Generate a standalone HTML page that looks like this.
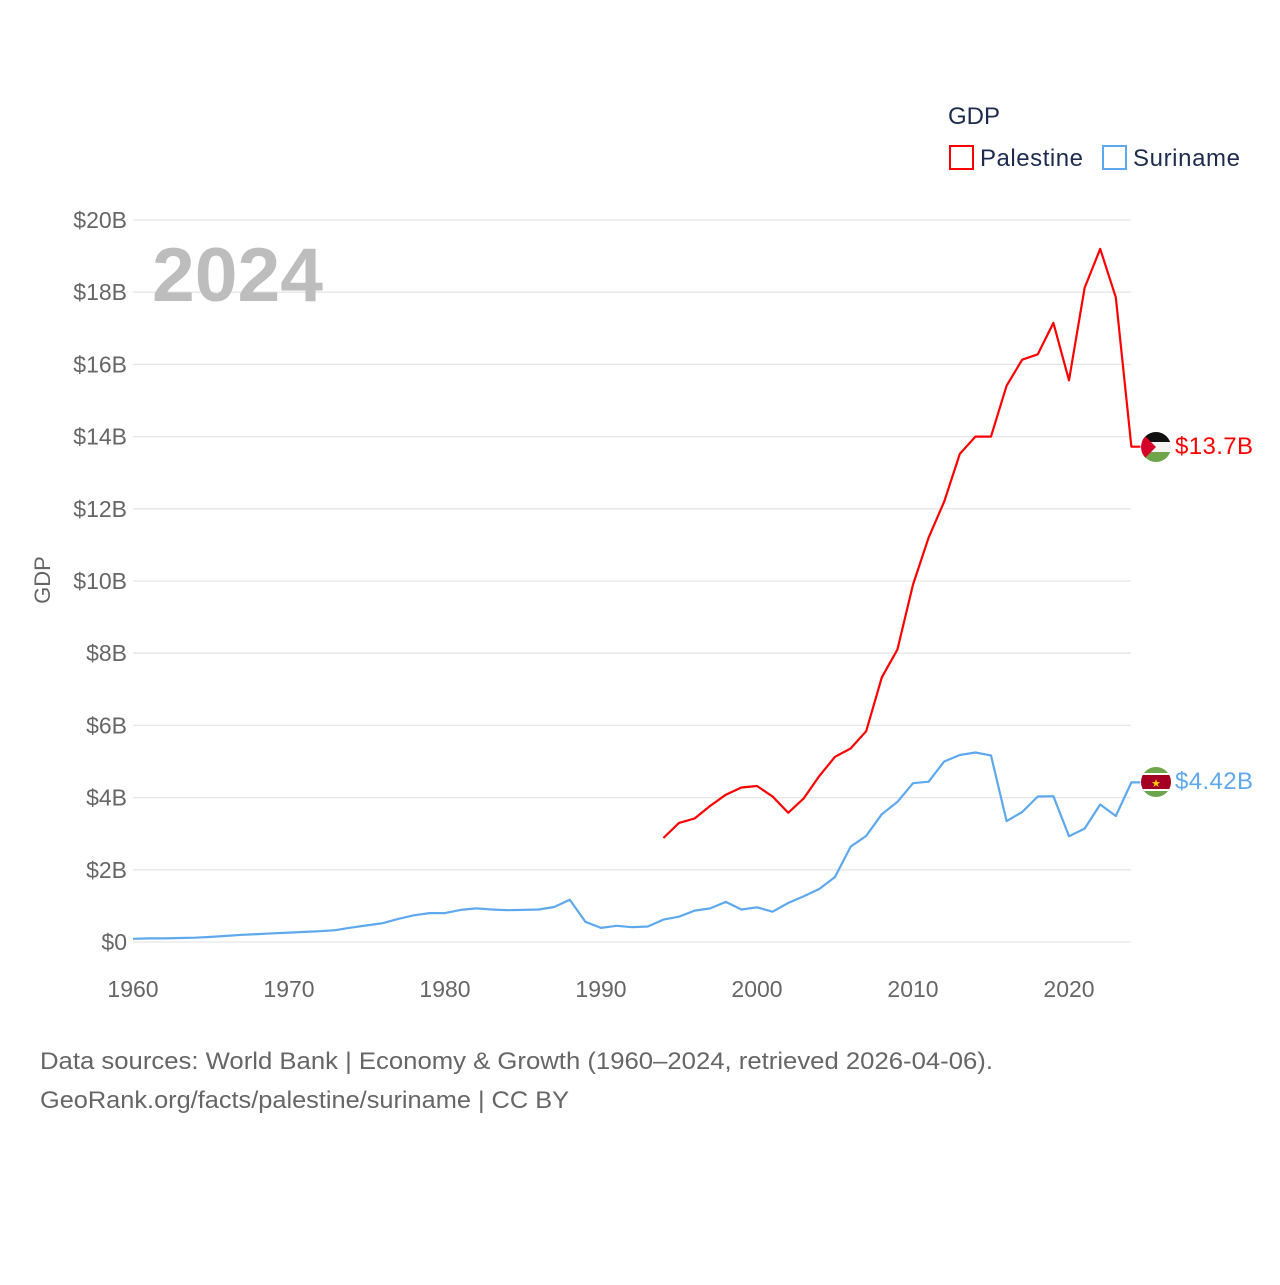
<!DOCTYPE html>
<html><head><meta charset="utf-8"><style>
body{margin:0;background:#fff;width:1280px;height:1280px;overflow:hidden;font-family:"Liberation Sans",sans-serif}
svg text{font-family:"Liberation Sans",sans-serif}
</style></head><body>
<svg id="chart" width="1280" height="1280" viewBox="0 0 1280 1280" xmlns="http://www.w3.org/2000/svg">
<defs>
<clipPath id="cp"><circle cx="1156" cy="447" r="15"/></clipPath>
<clipPath id="cs"><circle cx="1156" cy="782" r="15"/></clipPath>
</defs>
<g id="grid"></g>
<g id="yticks"></g>
<g id="xticks"></g>
<text x="50" y="580" transform="rotate(-90 50 580)" text-anchor="middle" font-size="22" fill="#666">GDP</text>
<text x="152" y="301" font-size="76" font-weight="bold" fill="#bdbdbd" textLength="171" lengthAdjust="spacingAndGlyphs">2024</text>
<g>
<text x="948" y="124" font-size="24" fill="#1d2b4f">GDP</text>
<rect x="950" y="146" width="23" height="23" fill="none" stroke="#ff0000" stroke-width="2"/>
<text x="980" y="166" font-size="24" fill="#1d2b4f" textLength="103">Palestine</text>
<rect x="1103" y="146" width="23" height="23" fill="none" stroke="#5ea8ee" stroke-width="2"/>
<text x="1133" y="166" font-size="24" fill="#1d2b4f" textLength="107">Suriname</text>
</g>
<path id="palLine" fill="none" stroke="#ff0000" stroke-width="2.2" stroke-linejoin="round"/>
<path id="surLine" fill="none" stroke="#5ea8ee" stroke-width="2.2" stroke-linejoin="round"/>
<g clip-path="url(#cp)">
<rect x="1141" y="432" width="30" height="10" fill="#111"/>
<rect x="1141" y="442" width="30" height="10" fill="#f4f4f4"/>
<rect x="1141" y="452" width="30" height="10" fill="#6ea54a"/>
<polygon points="1141,432 1156,447 1141,462" fill="#d7002b"/>
</g>
<g clip-path="url(#cs)">
<rect x="1141" y="767" width="30" height="30" fill="#6ea54a"/>
<rect x="1141" y="773" width="30" height="18" fill="#fff"/>
<rect x="1141" y="775" width="30" height="14" fill="#a50024"/>
<text x="1156" y="787" text-anchor="middle" font-size="11" fill="#f5d000">★</text>
</g>
<text id="palLabel" x="1175" y="454" font-size="24" fill="#ff0000" textLength="78">$13.7B</text>
<text id="surLabel" x="1175" y="789" font-size="24" fill="#5ea8ee" textLength="78">$4.42B</text>
<text x="40" y="1069" font-size="24" fill="#666" textLength="953" lengthAdjust="spacingAndGlyphs">Data sources: World Bank | Economy &amp; Growth (1960–2024, retrieved 2026-04-06).</text>
<text x="40" y="1108" font-size="24" fill="#666" textLength="529" lengthAdjust="spacingAndGlyphs">GeoRank.org/facts/palestine/suriname | CC BY</text>
</svg>
<script>
const yTicks=[0,2,4,6,8,10,12,14,16,18,20];
const yTickLabels=["$0","$2B","$4B","$6B","$8B","$10B","$12B","$14B","$16B","$18B","$20B"];
const xTicks=[1960,1970,1980,1990,2000,2010,2020];
const palYears=[1994,1995,1996,1997,1998,1999,2000,2001,2002,2003,2004,2005,2006,2007,2008,2009,2010,2011,2012,2013,2014,2015,2016,2017,2018,2019,2020,2021,2022,2023,2024];
const palValues=[2.88,3.3,3.42,3.77,4.08,4.28,4.32,4.03,3.58,3.98,4.6,5.13,5.36,5.84,7.33,8.1,9.9,11.2,12.2,13.52,14.0,14.0,15.41,16.13,16.28,17.15,15.56,18.12,19.2,17.86,13.72];
const surYears=[1960,1961,1962,1963,1964,1965,1966,1967,1968,1969,1970,1971,1972,1973,1974,1975,1976,1977,1978,1979,1980,1981,1982,1983,1984,1985,1986,1987,1988,1989,1990,1991,1992,1993,1994,1995,1996,1997,1998,1999,2000,2001,2002,2003,2004,2005,2006,2007,2008,2009,2010,2011,2012,2013,2014,2015,2016,2017,2018,2019,2020,2021,2022,2023,2024];
const surValues=[0.09,0.1,0.1,0.11,0.12,0.14,0.17,0.2,0.22,0.24,0.26,0.28,0.3,0.33,0.4,0.46,0.52,0.64,0.74,0.8,0.8,0.89,0.93,0.9,0.88,0.89,0.9,0.97,1.17,0.56,0.39,0.45,0.41,0.43,0.62,0.7,0.87,0.93,1.11,0.9,0.96,0.84,1.08,1.27,1.47,1.8,2.64,2.94,3.54,3.88,4.4,4.44,5.0,5.18,5.25,5.17,3.35,3.6,4.03,4.04,2.93,3.14,3.81,3.49,4.42];
const X=y=>133+(y-1960)*15.6;
const Y=v=>942-v*36.1;
const NS="http://www.w3.org/2000/svg";
const grid=document.getElementById('grid'),yt=document.getElementById('yticks'),xt=document.getElementById('xticks');
yTicks.forEach((t,i)=>{
 const l=document.createElementNS(NS,'line');
 
 
 l.setAttribute('x1',133);l.setAttribute('x2',1131);l.setAttribute('y1',Y(t));l.setAttribute('y2',Y(t));
 l.setAttribute('stroke','#e6e6e6');l.setAttribute('stroke-width','1.3');
 grid.appendChild(l);
 const tx=document.createElementNS(NS,'text');
 
 
 tx.setAttribute('x',127);tx.setAttribute('y',Y(t)+8);tx.setAttribute('text-anchor','end');
 tx.setAttribute('font-size','23');tx.setAttribute('fill','#666');tx.textContent=yTickLabels[i];
 yt.appendChild(tx);
});
xTicks.forEach(t=>{
 const tx=document.createElementNS(NS,'text');
 
 
 tx.setAttribute('x',X(t));tx.setAttribute('y',997);tx.setAttribute('text-anchor','middle');
 tx.setAttribute('font-size','23');tx.setAttribute('fill','#666');tx.textContent=t;
 xt.appendChild(tx);
});
function path(ys,vs){let d=ys.map((y,i)=>(i?'L':'M')+X(y).toFixed(1)+' '+Y(vs[i]).toFixed(1)).join(' ');
 d+=' L'+(X(ys[ys.length-1])+9).toFixed(1)+' '+Y(vs[vs.length-1]).toFixed(1);return d;}
document.getElementById('palLine').setAttribute('d',path(palYears,palValues));
document.getElementById('surLine').setAttribute('d',path(surYears,surValues));
</script>
</body></html>
